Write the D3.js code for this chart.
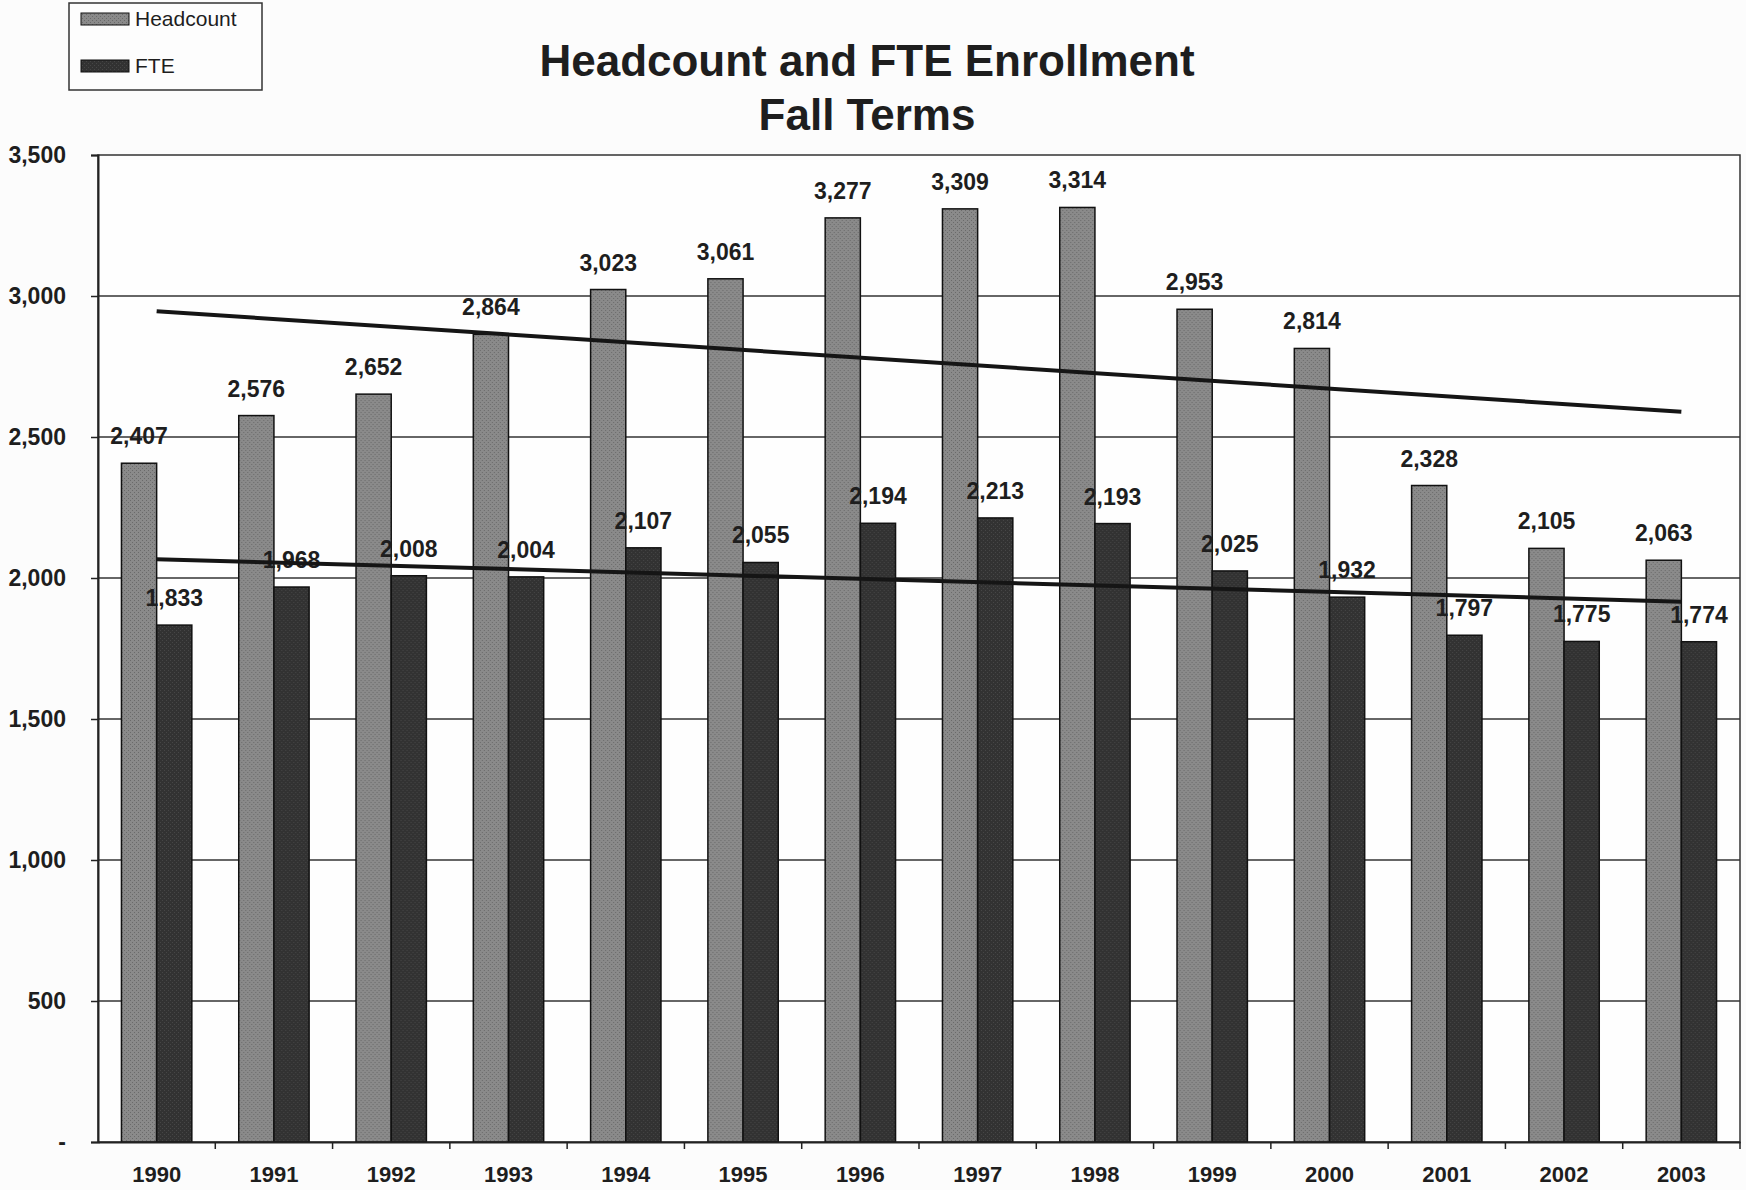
<!DOCTYPE html>
<html>
<head>
<meta charset="utf-8">
<script src="https://cdn.jsdelivr.net/npm/d3@7/dist/d3.min.js"></script>
<style>
  html, body { margin: 0; padding: 0; background: #fcfcfc; }
  svg { display: block; }
  text { font-family: "Liberation Sans", Arial, sans-serif; fill: #1e1e1e; }
</style>
</head>
<body>
<svg id="chart" width="1746" height="1190"></svg>
<script>
const years = ["1990","1991","1992","1993","1994","1995","1996","1997","1998","1999","2000","2001","2002","2003"];
const headcount = [2407, 2576, 2652, 2864, 3023, 3061, 3277, 3309, 3314, 2953, 2814, 2328, 2105, 2063];
const fte = [1833, 1968, 2008, 2004, 2107, 2055, 2194, 2213, 2193, 2025, 1932, 1797, 1775, 1774];
const seriesNames = ["Headcount", "FTE"];
const yTickValues = [0, 500, 1000, 1500, 2000, 2500, 3000, 3500];
const titleLines = ["Headcount and FTE Enrollment", "Fall Terms"];

const svg = d3.select("#chart");
const plot = { left: 98, right: 1740, top: 155, bottom: 1142 };

// patterns imitating the halftone texture
const defs = svg.append("defs");
function texture(id, base, dot) {
  const p = defs.append("pattern").attr("id", id).attr("width", 4).attr("height", 4)
    .attr("patternUnits", "userSpaceOnUse");
  p.append("rect").attr("width", 4).attr("height", 4).attr("fill", base);
  p.append("rect").attr("x", 0).attr("y", 0).attr("width", 1).attr("height", 1).attr("fill", dot);
  p.append("rect").attr("x", 2).attr("y", 2).attr("width", 1).attr("height", 1).attr("fill", dot);
}
texture("texHead", "#8a8a8a", "#6a6a6a");
texture("texFte", "#323232", "#464646");
const fills = ["url(#texHead)", "url(#texFte)"];

const x = d3.scaleBand().domain(years).range([plot.left, plot.right]).paddingInner(0).paddingOuter(0);
const y = d3.scaleLinear().domain([0, 3500]).range([plot.bottom, plot.top]);

// plot border
svg.append("rect").attr("x", plot.left).attr("y", plot.top)
  .attr("width", plot.right - plot.left).attr("height", plot.bottom - plot.top)
  .attr("fill", "#fefefe").attr("stroke", "#333").attr("stroke-width", 1.5);

// gridlines
svg.append("g").selectAll("line").data(yTickValues.filter(v => v > 0 && v < 3500)).join("line")
  .attr("x1", plot.left).attr("x2", plot.right)
  .attr("y1", d => y(d)).attr("y2", d => y(d))
  .attr("stroke", "#333").attr("stroke-width", 1.4);

// y axis
const yAxis = d3.axisLeft(y).tickValues(yTickValues).tickSize(7).tickPadding(20)
  .tickFormat(d => d === 0 ? "-" : d3.format(",")(d));
const gy = svg.append("g").attr("transform", `translate(${plot.left},0)`).call(yAxis);
gy.select(".domain").attr("stroke", "#222").attr("stroke-width", 2);
gy.selectAll(".tick line").attr("stroke", "#222").attr("stroke-width", 1.5);
gy.selectAll(".tick text").attr("font-size", 23).attr("font-weight", "bold").attr("fill", "#1e1e1e")
  .attr("dx", -5);

// bars
const data = years.map((yr, i) => ({ year: yr, values: [headcount[i], fte[i]] }));
const barW = x.bandwidth() * 0.3;
const groups = svg.append("g").selectAll("g").data(data).join("g")
  .attr("transform", d => `translate(${x(d.year)},0)`);
groups.selectAll("rect").data(d => d.values.map((v, k) => ({ v, k }))).join("rect")
  .attr("x", d => x.bandwidth() / 2 - barW + d.k * barW)
  .attr("width", barW)
  .attr("y", d => y(d.v))
  .attr("height", d => y(0) - y(d.v))
  .attr("fill", d => fills[d.k])
  .attr("stroke", "#111").attr("stroke-width", 1.5);

// trend lines (least squares fit of each series)
function linfit(vals) {
  const n = vals.length;
  const xs = d3.range(n);
  const mx = d3.mean(xs), my = d3.mean(vals);
  let sxy = 0, sxx = 0;
  xs.forEach((xi, i) => { sxy += (xi - mx) * (vals[i] - my); sxx += (xi - mx) * (xi - mx); });
  const b = sxy / sxx, a = my - b * mx;
  return i => a + b * i;
}
[headcount, fte].forEach(vals => {
  const f = linfit(vals);
  const pts = [0, years.length - 1].map(i => [x(years[i]) + x.bandwidth() / 2, y(f(i))]);
  svg.append("path").attr("d", d3.line()(pts)).attr("stroke", "#151515")
    .attr("stroke-width", 4).attr("fill", "none");
});

// data labels
groups.selectAll("text.lbl").data(d => d.values.map((v, k) => ({ v, k }))).join("text")
  .attr("class", "lbl")
  .attr("x", d => x.bandwidth() / 2 - barW / 2 + d.k * barW)
  .attr("y", d => y(d.v) - 19)
  .attr("text-anchor", "middle")
  .attr("font-size", 23).attr("font-weight", "bold")
  .text(d => d3.format(",")(d.v));

// x axis
const xAxis = d3.axisBottom(x).tickSize(0).tickPadding(0);
const gx = svg.append("g").attr("transform", `translate(0,${plot.bottom})`).call(xAxis);
gx.select(".domain").attr("stroke", "#222").attr("stroke-width", 2);
gx.selectAll(".tick text").attr("font-size", 22).attr("font-weight", "bold").attr("fill", "#1e1e1e")
  .attr("dy", 0).attr("y", 40);
// tick marks at category boundaries
svg.append("g").selectAll("line").data(years.slice(1).concat(["__end"])).join("line")
  .attr("x1", d => d === "__end" ? plot.right : x(d))
  .attr("x2", d => d === "__end" ? plot.right : x(d))
  .attr("y1", plot.bottom).attr("y2", plot.bottom + 7)
  .attr("stroke", "#222").attr("stroke-width", 1.5);

// title
svg.append("g").selectAll("text").data(titleLines).join("text")
  .attr("x", 867).attr("y", (d, i) => 76 + i * 54)
  .attr("text-anchor", "middle").attr("font-size", 44).attr("font-weight", "bold")
  .attr("fill", "#1e1e1e")
  .text(d => d);

// legend
const lg = svg.append("g");
lg.append("rect").attr("x", 69).attr("y", 3).attr("width", 193).attr("height", 87)
  .attr("fill", "#fdfdfd").attr("stroke", "#333").attr("stroke-width", 1.5);
const li = lg.selectAll("g").data(seriesNames).join("g")
  .attr("transform", (d, i) => `translate(0,${i * 47})`);
li.append("rect").attr("x", 81).attr("y", 13).attr("width", 48).attr("height", 12)
  .attr("fill", (d, i) => fills[i]).attr("stroke", "#111").attr("stroke-width", 1);
li.append("text").attr("x", 135).attr("y", 26).attr("font-size", 21).text(d => d);
</script>
</body>
</html>
